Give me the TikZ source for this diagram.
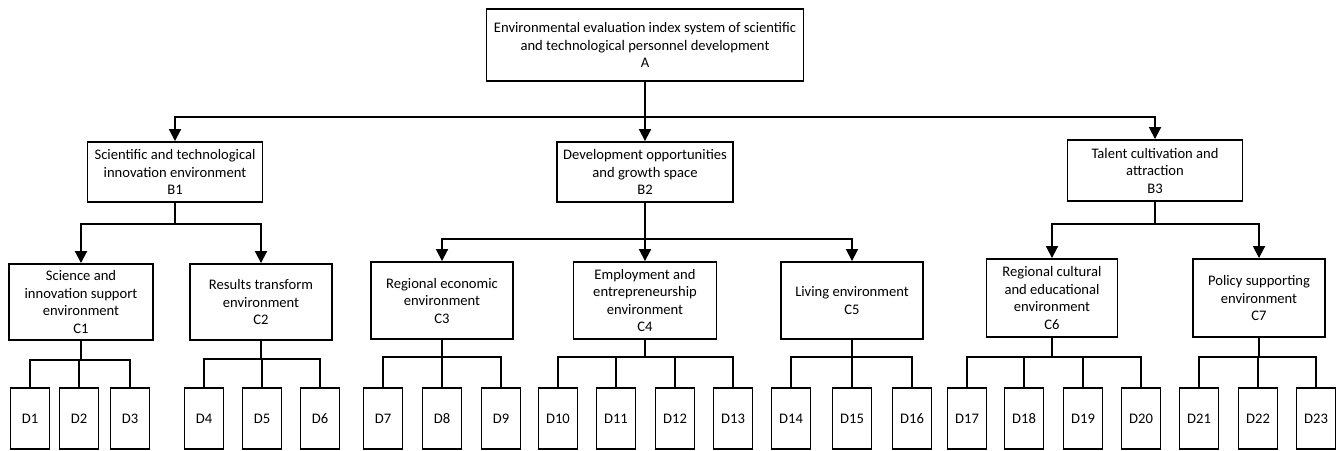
\documentclass[tikz,border=0pt]{standalone}
\usepackage{fontspec}
\setmainfont{Carlito}
\usetikzlibrary{arrows.meta}
\begin{document}
\begin{tikzpicture}[x=1pt,y=-1pt,
  box/.style={draw, line width=1.9pt, align=center, inner sep=0pt,
    font=\fontsize{14.6}{17.5}\selectfont},
  dbox/.style={box, minimum width=39pt, minimum height=61pt},
  conn/.style={line width=1.9pt},
  thinconn/.style={line width=1.2pt},
  arr/.style={line width=1.9pt, -{Triangle[width=12pt,length=12pt]}}]
\useasboundingbox (0,0) rectangle (1340,450);
% level A
\node[box, minimum width=317pt, minimum height=72pt] (A) at (645,45)
  {Environmental evaluation index system of scientific\\and technological personnel development\\A};
% level B
\node[box, minimum width=175pt, minimum height=60pt] (B1) at (175,172)
  {Scientific and technological\\innovation environment\\B1};
\node[box, minimum width=176pt, minimum height=60pt] (B2) at (645,172)
  {Development opportunities\\and growth space\\B2};
\node[box, minimum width=175pt, minimum height=61pt] (B3) at (1155,170.5)
  {Talent cultivation and\\attraction\\B3};
% level C
\node[box, minimum width=144pt, minimum height=76pt] (C1) at (81,302)
  {Science and\\innovation support\\environment\\C1};
\node[box, minimum width=142pt, minimum height=76pt] (C2) at (261,302)
  {Results transform\\environment\\C2};
\node[box, minimum width=142pt, minimum height=77pt] (C3) at (442,300.5)
  {Regional economic\\environment\\C3};
\node[box, minimum width=143pt, minimum height=77pt] (C4) at (645,300.5)
  {Employment and\\entrepreneurship\\environment\\C4};
\node[box, minimum width=142pt, minimum height=77pt] (C5) at (852,300.5)
  {Living environment\\C5};
\node[box, minimum width=131pt, minimum height=78pt] (C6) at (1052,298)
  {Regional cultural\\and educational\\environment\\C6};
\node[box, minimum width=132pt, minimum height=78pt] (C7) at (1259,298)
  {Policy supporting\\environment\\C7};
% level D
\foreach \i/\x in {1/30,2/79,3/130,4/204,5/262,6/320,7/383,8/442,9/501,
  10/558,11/616,12/675,13/733,14/791,15/852,16/912,17/967,18/1024,
  19/1083,20/1141,21/1199,22/1258,23/1316}
  \node[dbox] (D\i) at (\x,418.5) {D\i};
% A -> B
\coordinate (ab) at (645,117);
\draw[conn] (A.south) -- (ab);
\draw[arr] (ab) -| (B1.north);
\draw[arr] (ab) -- (B2.north);
\draw[arr] (ab) -| (B3.north);
% B1 -> C1, C2
\coordinate (b1) at (175,224);
\draw[conn] (B1.south) -- (b1);
\draw[arr] (b1) -| (C1.north);
\draw[arr] (b1) -| (C2.north);
% B2 -> C3, C4, C5
\coordinate (b2) at (645,239);
\draw[conn] (B2.south) -- (b2);
\draw[arr] (b2) -| (C3.north);
\draw[arr] (b2) -- (C4.north);
\draw[arr] (b2) -| (C5.north);
% B3 -> C6, C7
\coordinate (b3) at (1155,224);
\draw[conn] (B3.south) -- (b3);
\draw[arr] (b3) -| (C6.north);
\draw[arr] (b3) -| (C7.north);
% C -> D
\coordinate (c1) at (81,360);
\draw[conn] (C1.south) -- (c1);
\foreach \d in {1,2,3} \draw[conn] (c1) -| (D\d.north);
\coordinate (c2) at (261,359);
\draw[conn] (C2.south) -- (c2);
\foreach \d in {4,5,6} \draw[conn] (c2) -| (D\d.north);
\coordinate (c3) at (442,357);
\draw[conn] (C3.south) -- (c3);
\foreach \d in {7,8,9} \draw[conn] (c3) -| (D\d.north);
\coordinate (c4) at (645,357);
\draw[thinconn] (C4.south) -- (c4);
\foreach \d in {10,11,12,13} \draw[thinconn] (c4) -| (D\d.north);
\coordinate (c5) at (852,357);
\draw[thinconn] (C5.south) -- (c5);
\foreach \d in {14,15,16} \draw[thinconn] (c5) -| (D\d.north);
\coordinate (c6) at (1052,357);
\draw[conn] (C6.south) -- (c6);
\foreach \d in {17,18,19,20} \draw[thinconn] (c6) -| (D\d.north);
\coordinate (c7) at (1259,357);
\draw[conn] (C7.south) -- (c7);
\foreach \d in {21,22,23} \draw[conn] (c7) -| (D\d.north);
\end{tikzpicture}
\end{document}
